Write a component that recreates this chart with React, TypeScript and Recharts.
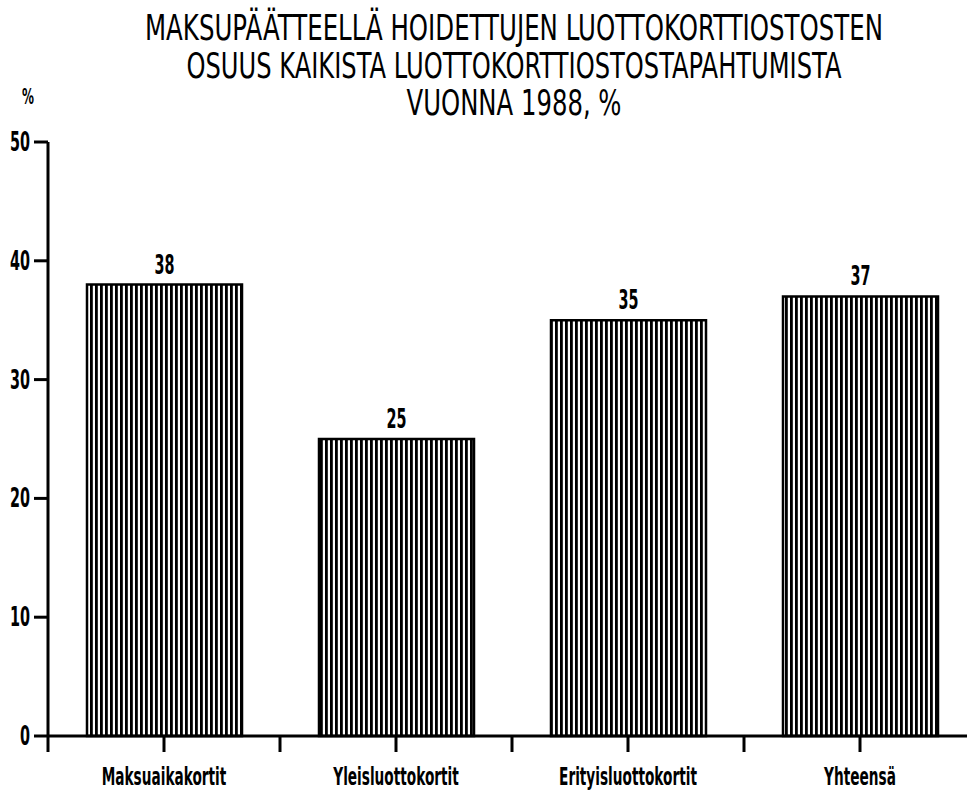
import React from 'react';
import { BarChart, Bar, XAxis, YAxis, LabelList } from 'recharts';

const categories = ['Maksuaikakortit', 'Yleisluottokortit', 'Erityisluottokortit', 'Yhteensä'];
const shares = [38, 25, 35, 37];
const yTicks = [0, 10, 20, 30, 40, 50];
const titleLines = [
  'MAKSUPÄÄTTEELLÄ HOIDETTUJEN LUOTTOKORTTIOSTOSTEN',
  'OSUUS KAIKISTA LUOTTOKORTTIOSTOSTAPAHTUMISTA',
  'VUONNA 1988, %',
];

const data = categories.map((name, i) => ({ name, value: shares[i] }));

const FONT = '"DejaVu Sans", sans-serif';
const BAND = 232;

// title line geometry (baseline y, drawn width)
const titleLayout = [
  { y: 40, w: 738 },
  { y: 78, w: 655 },
  { y: 115, w: 215 },
];
const TITLE_SX = 0.86;
const TITLE_SY = 1.25;

const XTick = (props: any) => {
  const { x, y, payload } = props;
  return (
    <g>
      <line x1={x} y1={y} x2={x} y2={y + 16} stroke="#000" strokeWidth={3} />
      <line x1={x - BAND / 2} y1={y} x2={x - BAND / 2} y2={y + 16} stroke="#000" strokeWidth={3} />
      <text
        transform={`translate(${x},${y + 49}) scale(0.57,1)`}
        textAnchor="middle"
        fontFamily={FONT}
        fontWeight="bold"
        fontSize={24}
        fill="#000"
      >
        {payload.value}
      </text>
    </g>
  );
};

const YTick = (props: any) => {
  const { x, y, payload } = props;
  const s = String(payload.value);
  return (
    <text
      x={x}
      y={y}
      dy={9}
      textAnchor="end"
      fontFamily={FONT}
      fontWeight="bold"
      fontSize={26}
      textLength={s.length * 10}
      lengthAdjust="spacingAndGlyphs"
      fill="#000"
    >
      {s}
    </text>
  );
};

const ValueLabel = (props: any) => {
  const { x, y, width, value } = props;
  const s = String(value);
  return (
    <text
      x={x + width / 2}
      y={y - 11}
      textAnchor="middle"
      fontFamily={FONT}
      fontWeight="bold"
      fontSize={26}
      textLength={s.length * 10}
      lengthAdjust="spacingAndGlyphs"
      fill="#000"
    >
      {s}
    </text>
  );
};

export default function App() {
  return (
    <div
      style={{
        position: 'absolute',
        left: 0,
        top: 0,
        width: 967,
        height: 791,
        overflow: 'hidden',
        background: '#fff',
      }}
    >
      <BarChart
        width={990}
        height={791}
        data={data}
        margin={{ top: 142, right: 14, left: 0, bottom: 0 }}
      >
        <defs>
          <pattern id="stripes" patternUnits="userSpaceOnUse" width={5} height={10}>
            <rect width={5} height={10} fill="#fff" />
            <rect x={0} width={2.8} height={10} fill="#000" />
          </pattern>
        </defs>
        <XAxis
          dataKey="name"
          height={55}
          tickSize={0}
          tickMargin={0}
          tickLine={false}
          axisLine={{ stroke: '#000', strokeWidth: 3 }}
          tick={<XTick />}
          interval={0}
        />
        <YAxis
          width={48}
          domain={[0, 50]}
          ticks={yTicks}
          tickSize={14}
          tickMargin={4}
          axisLine={{ stroke: '#000', strokeWidth: 3 }}
          tickLine={{ stroke: '#000', strokeWidth: 3 }}
          tick={<YTick />}
          interval={0}
        />
        <Bar
          dataKey="value"
          barSize={155}
          fill="url(#stripes)"
          stroke="#000"
          strokeWidth={2.5}
          isAnimationActive={false}
        >
          <LabelList dataKey="value" content={<ValueLabel />} />
        </Bar>
      </BarChart>
      <svg
        width={967}
        height={791}
        style={{ position: 'absolute', left: 0, top: 0, pointerEvents: 'none' }}
      >
        {titleLines.map((line, i) => (
          <text
            key={line}
            transform={`translate(514,${titleLayout[i].y}) scale(${TITLE_SX},${TITLE_SY})`}
            textAnchor="middle"
            fontFamily={FONT}
            fontSize={28}
            textLength={titleLayout[i].w / TITLE_SX}
            lengthAdjust="spacingAndGlyphs"
            fill="#000"
          >
            {line}
          </text>
        ))}
        <text
          x={28}
          y={104}
          textAnchor="middle"
          fontFamily={FONT}
          fontWeight="bold"
          fontSize={22}
          textLength={12}
          lengthAdjust="spacingAndGlyphs"
          fill="#000"
        >
          %
        </text>
      </svg>
    </div>
  );
}
